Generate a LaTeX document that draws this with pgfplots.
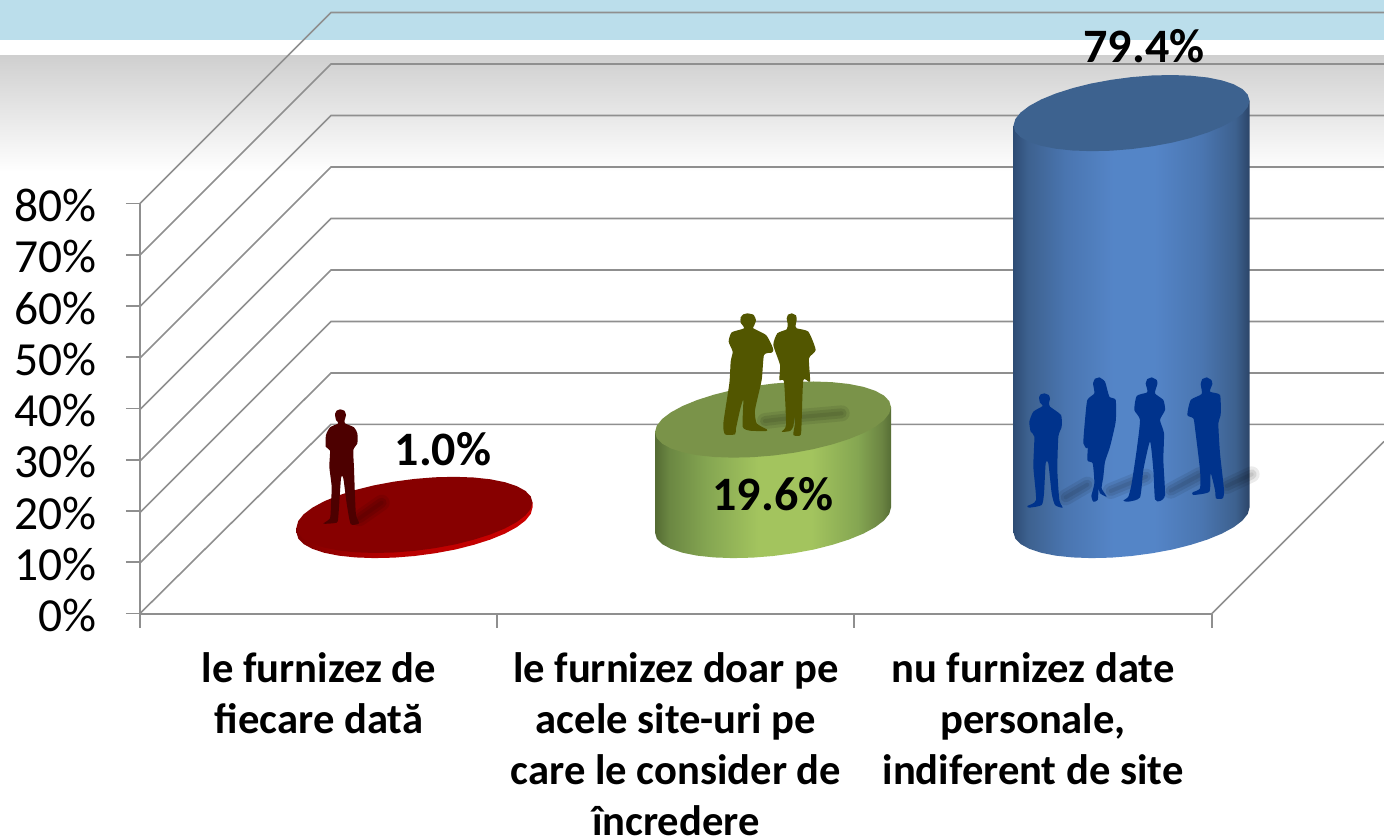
\documentclass[border=0pt]{standalone}
\usepackage{pgfplots}
\usepackage{pgfplotstable}
\usepackage{fontspec}
\setmainfont{Carlito}
\pgfplotsset{compat=1.18}
\definecolor{gridc}{HTML}{8F8F8F}
\definecolor{bandc}{HTML}{BBDEEB}
\definecolor{bgray}{HTML}{CFCFCF}
\definecolor{redcap}{HTML}{870000}
\definecolor{greencap}{HTML}{7A9349}
\definecolor{bluecap}{HTML}{3D628F}
\definecolor{redman}{HTML}{4D0000}
\definecolor{greenman}{HTML}{525600}
\definecolor{blueman}{HTML}{00338C}
\pgfdeclarehorizontalshading{cylblue}{100bp}{rgb(0bp)=(0.18,0.30,0.46); rgb(25bp)=(0.18,0.30,0.46); rgb(28bp)=(0.24,0.38,0.56); rgb(36bp)=(0.29,0.46,0.69); rgb(46bp)=(0.33,0.52,0.78); rgb(55bp)=(0.33,0.52,0.78); rgb(65bp)=(0.29,0.46,0.69); rgb(72bp)=(0.24,0.38,0.56); rgb(75bp)=(0.17,0.27,0.41); rgb(100bp)=(0.17,0.27,0.41)}
\pgfdeclarehorizontalshading{cylgreen}{100bp}{rgb(0bp)=(0.33,0.42,0.20); rgb(25bp)=(0.33,0.42,0.20); rgb(28bp)=(0.42,0.53,0.26); rgb(36bp)=(0.52,0.65,0.32); rgb(47bp)=(0.64,0.77,0.37); rgb(58bp)=(0.64,0.77,0.37); rgb(68bp)=(0.52,0.65,0.32); rgb(73bp)=(0.42,0.52,0.26); rgb(75bp)=(0.34,0.43,0.21); rgb(100bp)=(0.34,0.43,0.21)}
\pgfdeclarehorizontalshading{cylred}{100bp}{rgb(0bp)=(0.50,0,0); rgb(25bp)=(0.50,0,0); rgb(45bp)=(0.72,0,0); rgb(75bp)=(0.80,0,0); rgb(100bp)=(0.80,0,0)}
% outline of a cylinder top, offsets in px (x) and percent points (y)
\pgfplotstableread{
dx dy
118.0 2.44
116.2 3.62
110.9 4.69
102.2 5.62
90.4 6.38
75.9 6.95
59.0 7.30
40.4 7.43
20.5 7.34
0 7.02
-20.5 6.49
-40.4 5.77
-59.0 4.86
-75.9 3.81
-90.4 2.65
-102.2 1.40
-110.9 0.11
-116.2 -1.18
-118.0 -2.44
-116.2 -3.62
-110.9 -4.69
-102.2 -5.62
-90.4 -6.38
-75.9 -6.95
-59.0 -7.30
-40.4 -7.43
-20.5 -7.34
0 -7.02
20.5 -6.49
40.4 -5.77
59.0 -4.86
75.9 -3.81
90.4 -2.65
102.2 -1.40
110.9 -0.11
116.2 1.18
118.0 2.44
}\capoutline
% outline of a cylinder side: t=1 rises by the value, t=0 stays on the floor
\pgfplotstableread{
dx dy t
-118.0 -2.44 1
-118.0 -2.44 0
-116.2 -3.62 0
-110.9 -4.69 0
-102.2 -5.62 0
-90.4 -6.38 0
-75.9 -6.95 0
-59.0 -7.30 0
-40.4 -7.43 0
-20.5 -7.34 0
0 -7.02 0
20.5 -6.49 0
40.4 -5.77 0
59.0 -4.86 0
75.9 -3.81 0
90.4 -2.65 0
102.2 -1.40 0
110.9 -0.11 0
116.2 1.18 0
118.0 2.44 0
118.0 2.44 1
}\sideoutline
% soft shadows as streaks, in the crop coordinates of each group
\pgfplotstableread{
x y
238 385
305 338
}\shadred
\pgfplotstableread{
x y
375 363
470 352
605 340
}\shadgreen
\pgfplotstableread{
x y
197 412
262 374
}\shadblueA
\pgfplotstableread{
x y
332 393
438 350
}\shadblueB
\pgfplotstableread{
x y
512 392
600 345
}\shadblueC
\pgfplotstableread{
x y
680 378
755 343
}\shadblueD
\pgfplotsset{pxaxis/.style={at={(0pt,0pt)},anchor=south west,width=1384pt,height=839pt,scale only axis,axis lines=none,xmin=0,xmax=1384,ymin=0,ymax=839,y dir=reverse},
 shA/.style={draw=black,line width=16pt,line cap=round,line join=round,opacity=.08},
 shB/.style={draw=black,line width=10pt,line cap=round,line join=round,opacity=.09},
 shC/.style={draw=black,line width=4pt,line cap=round,line join=round,opacity=.08},
 sil/.style={draw=none,smooth,tension=.35}}
\begin{document}
\begin{tikzpicture}[x=1pt,y=1pt]
\path[use as bounding box] (0pt,0pt) rectangle (1384pt,839pt);
% background and 3-D walls
\begin{axis}[pxaxis]
\addplot[draw=none,fill=white] coordinates {(0,0)(1384,0)(1384,839)(0,839)};
\addplot[draw=none,fill=bandc] coordinates {(0,0)(1384,0)(1384,40)(0,40)};
\addplot[draw=none,top color=bgray,bottom color=white] coordinates {(0,55)(1384,55)(1384,172)(0,172)};
\addplot[gridc,line width=1.6pt] coordinates {(140,203.5)(331,12.5)(1384,12.5)};
\addplot[gridc,line width=1.6pt] coordinates {(140,255)(331,64)(1384,64)};
\addplot[gridc,line width=1.6pt] coordinates {(140,306.5)(331,115.5)(1384,115.5)};
\addplot[gridc,line width=1.6pt] coordinates {(140,358)(331,167)(1384,167)};
\addplot[gridc,line width=1.6pt] coordinates {(140,409.5)(331,218.5)(1384,218.5)};
\addplot[gridc,line width=1.6pt] coordinates {(140,461)(331,270)(1384,270)};
\addplot[gridc,line width=1.6pt] coordinates {(140,512.5)(331,321.5)(1384,321.5)};
\addplot[gridc,line width=1.6pt] coordinates {(140,563)(331,373)(1384,373)};
\addplot[gridc,line width=1.6pt] coordinates {(140,613.5)(331,424.3)(1384,424.3)};
\addplot[gridc,line width=1.6pt] coordinates {(1212,613.5)(1384,441.5)};
\end{axis}
% value axis with the three cylinders
\begin{axis}[at={(140pt,225.5pt)},anchor=south west,width=1072pt,height=410pt,scale only axis,
  xmin=140,xmax=1212,ymin=0,ymax=80,clip=false,
  axis x line*=bottom,axis y line*=left,
  axis line style={gridc,line width=2pt,-},
  tick align=outside,
  ytick={0,10,...,80},
  yticklabels={0\%,10\%,20\%,30\%,40\%,50\%,60\%,70\%,80\%},
  xtick={140,497,854,1212},
  xticklabels={,,,},
  extra x ticks={319,676,1033},
  extra x tick labels={{le furnizez de\\fiecare dată},{le furnizez doar pe\\acele site-uri pe\\care le consider de\\încredere},{nu furnizez date\\personale,\\indiferent de site}},
  extra x tick style={major tick length=0pt,
     x tick label style={font=\fontsize{42.6}{51}\selectfont\bfseries,align=center,anchor=north,inner sep=0pt,yshift=-39pt}},
  tick style={gridc,line width=1.6pt},
  major tick length=14pt,
  y tick label style={font=\fontsize{47.5}{47.5}\selectfont,anchor=east,xshift=-26pt,yshift=-2pt},
]
% red 1.0
\addplot[draw=none,shading=cylred] table[x expr=414.5+\thisrow{dx},y expr=18.24+\thisrow{dy}+\thisrow{t}*1.0] {\sideoutline};
\addplot[draw=none,fill=redcap] table[x expr=414.5+\thisrow{dx},y expr=18.24+\thisrow{dy}+1.0] {\capoutline};
% green 19.6
\addplot[draw=none,shading=cylgreen] table[x expr=773+\thisrow{dx},y expr=18.24+\thisrow{dy}+\thisrow{t}*19.6] {\sideoutline};
\addplot[draw=none,fill=greencap] table[x expr=773+\thisrow{dx},y expr=18.24+\thisrow{dy}+19.6] {\capoutline};
% blue 79.4
\addplot[draw=none,shading=cylblue] table[x expr=1131.5+\thisrow{dx},y expr=18.24+\thisrow{dy}+\thisrow{t}*79.4] {\sideoutline};
\addplot[draw=none,fill=bluecap] table[x expr=1131.5+\thisrow{dx},y expr=18.24+\thisrow{dy}+79.4] {\capoutline};
\end{axis}
% silhouettes and value labels
\begin{axis}[pxaxis,clip=false]
% shadows: three layers each
\addplot[shA] table[x expr=280+\thisrow{x}/3,y expr=390+\thisrow{y}/3] {\shadred};
\addplot[shB] table[x expr=280+\thisrow{x}/3,y expr=390+\thisrow{y}/3] {\shadred};
\addplot[shC] table[x expr=280+\thisrow{x}/3,y expr=390+\thisrow{y}/3] {\shadred};
\addplot[shA] table[x expr=640+\thisrow{x}/3,y expr=300+\thisrow{y}/3] {\shadgreen};
\addplot[shB] table[x expr=640+\thisrow{x}/3,y expr=300+\thisrow{y}/3] {\shadgreen};
\addplot[shC] table[x expr=640+\thisrow{x}/3,y expr=300+\thisrow{y}/3] {\shadgreen};
\addplot[shA] table[x expr=1000+\thisrow{x}/3,y expr=360+\thisrow{y}/3] {\shadblueA};
\addplot[shB] table[x expr=1000+\thisrow{x}/3,y expr=360+\thisrow{y}/3] {\shadblueA};
\addplot[shC] table[x expr=1000+\thisrow{x}/3,y expr=360+\thisrow{y}/3] {\shadblueA};
\addplot[shA] table[x expr=1000+\thisrow{x}/3,y expr=360+\thisrow{y}/3] {\shadblueB};
\addplot[shB] table[x expr=1000+\thisrow{x}/3,y expr=360+\thisrow{y}/3] {\shadblueB};
\addplot[shC] table[x expr=1000+\thisrow{x}/3,y expr=360+\thisrow{y}/3] {\shadblueB};
\addplot[shA] table[x expr=1000+\thisrow{x}/3,y expr=360+\thisrow{y}/3] {\shadblueC};
\addplot[shB] table[x expr=1000+\thisrow{x}/3,y expr=360+\thisrow{y}/3] {\shadblueC};
\addplot[shC] table[x expr=1000+\thisrow{x}/3,y expr=360+\thisrow{y}/3] {\shadblueC};
\addplot[shA] table[x expr=1000+\thisrow{x}/3,y expr=360+\thisrow{y}/3] {\shadblueD};
\addplot[shB] table[x expr=1000+\thisrow{x}/3,y expr=360+\thisrow{y}/3] {\shadblueD};
\addplot[shC] table[x expr=1000+\thisrow{x}/3,y expr=360+\thisrow{y}/3] {\shadblueD};
% red man
\addplot[sil,fill=redman] table[x expr=280+\thisrow{x}/3,y expr=390+\thisrow{y}/3] {
x y
180 58
193 62
198 75
194 90
195 100
222 112
232 130
232 160
220 180
222 235
225 320
228 375
237 400
212 402
200 340
190 265
183 265
175 380
170 398
130 401
150 385
153 340
155 290
148 230
150 182
137 170
138 135
150 112
175 100
168 90
165 72
170 62
};
% green men
\addplot[sil,fill=greenman] table[x expr=640+\thisrow{x}/3,y expr=300+\thisrow{y}/3] {
x y
322 40
340 44
348 60
342 78
340 85
378 105
395 135
400 150
395 158
372 165
365 240
345 330
350 370
380 388
378 393
330 392
308 380
310 300
300 330
288 385
285 403
255 403
250 370
268 250
272 185
278 155
266 125
275 97
312 85
302 68
302 52
310 43
};
\addplot[sil,fill=greenman] table[x expr=640+\thisrow{x}/3,y expr=300+\thisrow{y}/3] {
x y
455 40
468 46
470 60
467 75
470 85
505 95
527 150
507 175
510 245
490 240
485 360
482 405
460 405
465 370
463 350
460 380
450 393
425 395
438 375
432 245
418 240
420 195
400 135
412 100
440 88
443 72
440 55
444 44
};
% blue people
\addplot[sil,fill=blueman] table[x expr=1000+\thisrow{x}/3,y expr=360+\thisrow{y}/3] {
x y
133 100
146 105
150 116
147 128
150 140
183 165
185 200
175 230
172 330
178 420
188 443
165 435
155 400
145 310
137 310
132 400
125 435
88 443
82 438
108 420
100 320
103 230
92 215
88 185
100 155
128 138
120 128
117 112
122 103
};
\addplot[sil,fill=blueman] table[x expr=1000+\thisrow{x}/3,y expr=360+\thisrow{y}/3] {
x y
298 52
315 65
328 110
347 120
347 185
330 260
315 305
310 350
305 385
320 410
300 400
296 385
293 420
280 425
274 408
283 370
278 310
262 300
266 230
262 265
250 250
255 180
262 120
283 100
279 70
285 56
};
\addplot[sil,fill=blueman] table[x expr=1000+\thisrow{x}/3,y expr=360+\thisrow{y}/3] {
x y
455 52
470 60
472 72
465 100
490 120
495 150
480 180
492 220
490 300
495 405
480 423
465 418
460 330
450 245
430 330
420 412
385 425
370 422
385 410
395 370
410 270
420 180
403 150
410 108
440 98
442 90
437 70
442 57
};
\addplot[sil,fill=blueman] table[x expr=1000+\thisrow{x}/3,y expr=360+\thisrow{y}/3] {
x y
620 52
634 60
637 72
630 95
660 105
662 165
655 190
660 280
672 390
668 415
648 415
645 390
632 340
628 395
580 405
578 397
600 385
600 330
585 205
580 175
562 165
572 120
605 102
602 72
607 57
};
\node[font=\fontsize{48}{48}\selectfont\bfseries] at (axis cs:443,449) {1.0\%};
\node[font=\fontsize{48}{48}\selectfont\bfseries] at (axis cs:773,494) {19.6\%};
\node[font=\fontsize{48}{48}\selectfont\bfseries] at (axis cs:1144,46) {79.4\%};
\end{axis}
\end{tikzpicture}
\end{document}
